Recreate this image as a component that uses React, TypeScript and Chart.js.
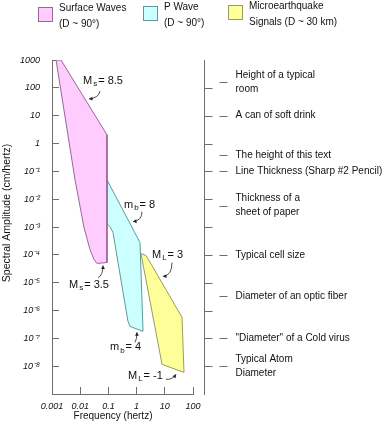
import { useEffect, useRef } from 'react';
import { Chart, registerables } from 'chart.js';

Chart.register(...registerables);

// ---------- data ----------
const xTickValues = [0.001, 0.01, 0.1, 1, 10, 100];
const xTickLabels = ['0.001', '0.01', '0.1', '1', '10', '100'];
const yTickValues = [1000, 100, 10, 1, 1e-1, 1e-2, 1e-3, 1e-4, 1e-5, 1e-6, 1e-7, 1e-8];
const yTickLabels = ['1000', '100', '10', '1', '10⁻¹', '10⁻²', '10⁻³', '10⁻⁴', '10⁻⁵', '10⁻⁶', '10⁻⁷', '10⁻⁸'];

const seriesNames = ['Surface Waves', 'P Wave', 'Microearthquake Signals'];
const legendLines = [
  ['Surface Waves', '(D ~ 90°)'],
  ['P Wave', '(D ~ 90°)'],
  ['Microearthquake', 'Signals (D ~ 30 km)'],
];

// polygon outlines: frequency (Hz) and spectral amplitude (cm/Hz)
const surfaceFreq = [0.00139, 0.00208, 0.089, 0.089, 0.0394, 0.0308, 0.0223, 0.01365, 0.00655, 0.00139];
const surfaceAmp = [1000, 1000, 2.05, 5.3e-5, 4.9e-5, 6.8e-5, 1.55e-4, 9.5e-4, 0.05, 1000];

const pWaveFreq = [0.089, 1.32, 1.69, 0.583, 0.495, 0.219, 0.146, 0.114, 0.089, 0.089];
const pWaveAmp = [0.05, 2.76e-4, 1.78e-7, 2.69e-7, 4.07e-7, 5.3e-5, 6.3e-4, 1.03e-3, 1.32e-3, 0.05];

const microFreq = [1.43, 2.15, 3.52, 40.7, 48, 29.4, 15.3, 7.96, 1.43];
const microAmp = [1.11e-4, 9.4e-5, 4.1e-5, 5.7e-7, 6.0e-9, 7.1e-9, 9.1e-9, 1.17e-8, 1.11e-4];

// magnitude annotations
const magMain = ['M', 'm', 'M', 'M', 'm', 'M'];
const magSub = ['s', 'b', 'L', 's', 'b', 'L'];
const magValue = ['8.5', '8', '3', '3.5', '4', '-1'];
const magTextAt = [[0.0126, 177], [0.357, 6.35e-3], [3.52, 1.03e-4], [0.00401, 8.6e-6], [0.114, 4.75e-8], [0.495, 4.35e-9]];
const magArrowTail = [[0.0504, 77.4], [1.55, 3.56e-3], [18, 5.3e-5], [0.0428, 1.53e-5], [0.877, 7.2e-8], [11, 3.4e-9]];
const magArrowCtrl = [[0.0465, 43.5], [1.55, 1.69e-3], [18, 1.81e-5], [0.0644, 1.81e-5], [1.03, 9.2e-8], [18, 3.1e-9]];
const magArrowHead = [[0.0205, 40], [0.745, 1.56e-3], [8.63, 1.67e-5], [0.0644, 4.13e-5], [1.03, 1.64e-7], [25, 5.1e-9]];

// right-hand size scale (cm)
const sizeLabels = [
  ['Height of a typical', 'room'],
  ['A can of soft drink'],
  ['The height of this text'],
  ['Line Thickness (Sharp #2 Pencil)'],
  ['Thickness of a', 'sheet of paper'],
  ['Typical cell size'],
  ['Diameter of an optic fiber'],
  ['"Diameter" of a Cold virus'],
  ['Typical Atom', 'Diameter'],
];
const sizeValues = [162, 10, 0.39, 0.1, 0.00585, 1e-4, 3.2e-6, 1e-7, 1e-8];

// ---------- styling ----------
const FONT = '"Liberation Sans", Arial, sans-serif';
const AXIS = '#6e6e6e';
const fills = ['#ffccff', '#ccffff', '#ffff99'];
const borders = ['#996699', '#5f9999', '#999966'];

function pts(xs: number[], ys: number[]) {
  return xs.map((x, i) => ({ x, y: ys[i] }));
}

function labelFor(values: number[], labels: string[], v: number) {
  const i = values.findIndex((t) => Math.abs(Math.log10(t) - Math.log10(v)) < 1e-6);
  return i >= 0 ? labels[i] : '';
}

const extrasPlugin = {
  id: 'extras',
  afterDraw(chart: any) {
    const ctx: CanvasRenderingContext2D = chart.ctx;
    const xs = chart.scales.x;
    const ys = chart.scales.y;
    const area = chart.chartArea;
    ctx.save();

    // right-hand scale
    const rx = Math.round(area.right + 11) + 0.5;
    ctx.strokeStyle = AXIS;
    ctx.lineWidth = 1;
    ctx.beginPath();
    ctx.moveTo(rx, area.top);
    ctx.lineTo(rx, area.bottom + 1);
    yTickValues.forEach((v) => {
      if (v >= 1000) return;
      const py = Math.round(ys.getPixelForValue(v)) + 0.5;
      ctx.moveTo(rx, py);
      ctx.lineTo(rx + 8, py);
    });
    sizeValues.forEach((v) => {
      const py = Math.round(ys.getPixelForValue(v)) + 0.5;
      ctx.moveTo(rx + 15, py);
      ctx.lineTo(rx + 23, py);
    });
    ctx.stroke();

    ctx.fillStyle = '#111';
    ctx.font = `10px ${FONT}`;
    ctx.textAlign = 'left';
    ctx.textBaseline = 'middle';
    sizeLabels.forEach((lines, i) => {
      const py = ys.getPixelForValue(sizeValues[i]);
      if (lines.length === 1) {
        ctx.fillText(lines[0], rx + 31, py);
      } else {
        ctx.fillText(lines[0], rx + 31, py - 7);
        ctx.fillText(lines[1], rx + 31, py + 7);
      }
    });

    // legend
    const boxX = [38, 143, 228];
    const boxY = [7, 6, 5];
    chart.data.datasets.forEach((ds: any, i: number) => {
      ctx.fillStyle = ds.backgroundColor;
      ctx.fillRect(boxX[i] + 0.5, boxY[i] + 0.5, 14, 14);
      ctx.strokeStyle = ds.borderColor;
      ctx.strokeRect(boxX[i] + 0.5, boxY[i] + 0.5, 14, 14);
      ctx.fillStyle = '#111';
      ctx.font = `10px ${FONT}`;
      ctx.fillText(legendLines[i][0], boxX[i] + 21, boxY[i] + 1);
      ctx.fillText(legendLines[i][1], boxX[i] + 21, boxY[i] + 17);
    });

    // axis titles
    ctx.fillStyle = '#111';
    ctx.font = `10px ${FONT}`;
    ctx.textAlign = 'center';
    ctx.fillText('Frequency (hertz)', 113, 416);
    ctx.save();
    ctx.translate(7, 213);
    ctx.rotate(-Math.PI / 2);
    ctx.font = `10.5px ${FONT}`;
    ctx.fillText('Spectral Amplitude (cm/hertz)', 0, 0);
    ctx.restore();

    // magnitude annotations
    ctx.textAlign = 'left';
    magMain.forEach((m, i) => {
      const tx = xs.getPixelForValue(magTextAt[i][0]);
      const ty = ys.getPixelForValue(magTextAt[i][1]);
      ctx.fillStyle = '#111';
      ctx.font = `11px ${FONT}`;
      ctx.fillText(m, tx, ty);
      let cx = tx + ctx.measureText(m).width + 1;
      ctx.font = `8px ${FONT}`;
      ctx.fillText(magSub[i], cx, ty + 3);
      cx += ctx.measureText(magSub[i]).width + 1;
      ctx.font = `11px ${FONT}`;
      ctx.fillText('= ' + magValue[i], cx, ty);

      const t = [xs.getPixelForValue(magArrowTail[i][0]), ys.getPixelForValue(magArrowTail[i][1])];
      const c = [xs.getPixelForValue(magArrowCtrl[i][0]), ys.getPixelForValue(magArrowCtrl[i][1])];
      const h = [xs.getPixelForValue(magArrowHead[i][0]), ys.getPixelForValue(magArrowHead[i][1])];
      ctx.strokeStyle = '#222';
      ctx.lineWidth = 0.8;
      ctx.beginPath();
      ctx.moveTo(t[0], t[1]);
      ctx.quadraticCurveTo(c[0], c[1], h[0], h[1]);
      ctx.stroke();
      const ang = Math.atan2(h[1] - c[1], h[0] - c[0]);
      ctx.fillStyle = '#222';
      ctx.beginPath();
      ctx.moveTo(h[0], h[1]);
      ctx.lineTo(h[0] - 4 * Math.cos(ang - 0.5), h[1] - 4 * Math.sin(ang - 0.5));
      ctx.lineTo(h[0] - 4 * Math.cos(ang + 0.5), h[1] - 4 * Math.sin(ang + 0.5));
      ctx.closePath();
      ctx.fill();
    });

    ctx.restore();
  },
};

export default function App() {
  const ref = useRef<HTMLCanvasElement>(null);

  useEffect(() => {
    if (!ref.current) return;
    const chart = new Chart(ref.current, {
      type: 'line',
      data: {
        datasets: [
          { label: seriesNames[0], data: pts(surfaceFreq, surfaceAmp) },
          { label: seriesNames[1], data: pts(pWaveFreq, pWaveAmp) },
          { label: seriesNames[2], data: pts(microFreq, microAmp) },
        ].map((d, i) => ({
          ...d,
          backgroundColor: fills[i],
          borderColor: borders[i],
          borderWidth: 1,
          pointRadius: 0,
          pointHoverRadius: 0,
          tension: 0,
          fill: 'shape',
        })) as any,
      },
      options: {
        animation: false,
        responsive: false,
        devicePixelRatio: 1,
        events: [],
        layout: { padding: { top: 60, right: 198, left: 0, bottom: 0 } },
        plugins: {
          legend: { display: false },
          title: { display: false },
          tooltip: { enabled: false },
        },
        scales: {
          x: {
            type: 'logarithmic',
            position: 'bottom',
            min: 0.001,
            max: 100,
            afterBuildTicks: (s: any) => {
              s.ticks = xTickValues.map((value) => ({ value }));
            },
            afterFit: (s: any) => {
              s.height = 32;
            },
            ticks: {
              autoSkip: false,
              maxRotation: 0,
              padding: 14,
              color: '#111',
              font: { family: FONT, size: 9, style: 'italic' },
              callback: (v: any) => labelFor(xTickValues, xTickLabels, Number(v)),
            },
            grid: { drawOnChartArea: false, tickLength: -7, color: AXIS },
            border: { color: AXIS },
          },
          y: {
            type: 'logarithmic',
            position: 'left',
            min: 1e-9,
            max: 1000,
            afterBuildTicks: (s: any) => {
              s.ticks = yTickValues.map((value) => ({ value }));
            },
            afterFit: (s: any) => {
              s.width = 52;
            },
            ticks: {
              autoSkip: false,
              padding: 19,
              color: '#111',
              font: { family: FONT, size: 9, style: 'italic' },
              callback: (v: any) => labelFor(yTickValues, yTickLabels, Number(v)),
            },
            grid: { drawOnChartArea: false, tickLength: -7, color: AXIS },
            border: { color: AXIS },
          },
        },
      } as any,
      plugins: [extrasPlugin],
    });
    return () => chart.destroy();
  }, []);

  return (
    <div style={{ position: 'absolute', left: 0, top: 0, width: 391, height: 426, background: '#fff' }}>
      <canvas ref={ref} width={391} height={426} />
    </div>
  );
}
